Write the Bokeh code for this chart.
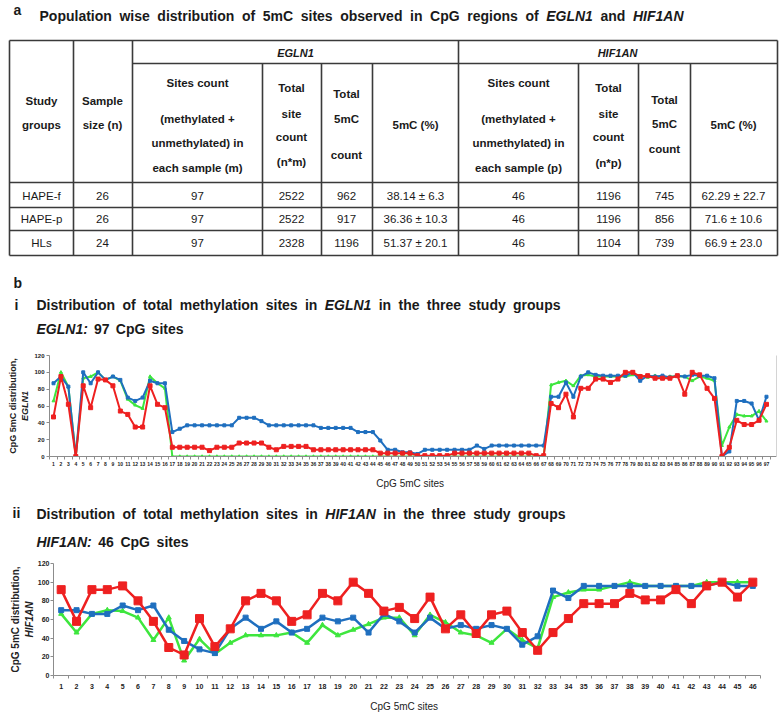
from bokeh.plotting import figure
from bokeh.models import Range1d, FixedTicker, LinearAxis
from bokeh.layouts import column
from bokeh.embed import file_html
from bokeh.resources import INLINE
from bokeh.core.properties import value

FONT = "Liberation Sans"
RED, GREEN, BLUE = "#ee2020", "#3ee63e", "#1f6fbf"
INK = "#1a1a1a"
RULE = "#3a3a3a"
PAGE_W = 784

# ---------------- table data ----------------
groups = ["HAPE-f", "HAPE-p", "HLs"]
sample_size = [26, 26, 24]
egln1_sites = [97, 97, 97]
egln1_total_sites = [2522, 2522, 2328]
egln1_total_5mc = [962, 917, 1196]
egln1_pct = ["38.14 \u00b1 6.3", "36.36 \u00b1 10.3", "51.37 \u00b1 20.1"]
hif1an_sites = [46, 46, 46]
hif1an_total_sites = [1196, 1196, 1104]
hif1an_total_5mc = [745, 856, 739]
hif1an_pct = ["62.29 \u00b1 22.7", "71.6 \u00b1 10.6", "66.9 \u00b1 23.0"]

# ---------------- EGLN1 (97 CpG sites) ----------------
egln1_red = [47, 95, 62, 0, 84, 58, 92, 91, 84, 54,
             50, 35, 35, 84, 62, 58, 11, 11, 11, 11,
             11, 7, 11, 11, 11, 16, 16, 16, 16, 11,
             8, 12, 12, 12, 12, 8, 8, 8, 8, 8,
             8, 8, 8, 8, 4, 4, 4, 4, 4, 1,
             1, 1, 1, 1, 4, 4, 4, 4, 4, 4,
             4, 4, 4, 4, 4, 1, 1, 63, 58, 74,
             47, 81, 81, 92, 92, 88, 92, 100, 100, 95,
             96, 93, 93, 93, 96, 74, 100, 97, 81, 69,
             0, 11, 43, 38, 38, 43, 62]
egln1_green = [66, 100, 83, 0, 93, 95, 100, 91, 95, 90,
               68, 61, 57, 95, 87, 81, 0, 0, 0, 0,
               0, 0, 0, 0, 0, 0, 0, 0, 0, 0,
               0, 0, 0, 0, 0, 0, 0, 0, 0, 0,
               0, 0, 0, 0, 0, 0, 0, 0, 0, 0,
               0, 0, 0, 0, 0, 0, 0, 0, 0, 0,
               0, 0, 0, 0, 0, 0, 0, 85, 88, 90,
               84, 96, 97, 95, 95, 95, 95, 95, 97, 96,
               94, 96, 93, 95, 95, 95, 90, 95, 93, 90,
               13, 35, 50, 48, 48, 54, 42]
egln1_blue = [87, 95, 83, 0, 100, 87, 100, 91, 95, 91,
              70, 66, 70, 90, 87, 87, 29, 33, 37, 37,
              37, 37, 37, 37, 37, 46, 46, 46, 42, 37,
              37, 37, 37, 37, 37, 37, 34, 34, 34, 34,
              34, 29, 29, 29, 19, 8, 8, 5, 5, 3,
              8, 8, 8, 8, 8, 8, 8, 13, 9, 13,
              13, 13, 13, 13, 13, 13, 13, 71, 71, 88,
              71, 95, 100, 97, 96, 96, 96, 96, 100, 90,
              96, 95, 96, 94, 96, 95, 97, 96, 96, 93,
              0, 6, 66, 66, 63, 43, 71]

# ---------------- HIF1AN (46 CpG sites) ----------------
hif1an_red = [92, 58, 92, 92, 96, 80, 58, 30, 22, 61,
              31, 50, 80, 88, 80, 58, 65, 88, 80, 100,
              88, 69, 73, 61, 84, 50, 65, 45, 65, 69,
              46, 27, 46, 61, 77, 77, 77, 88, 81, 81,
              92, 77, 96, 100, 84, 100]
hif1an_green = [66, 46, 66, 70, 69, 62, 38, 62, 16, 39,
                23, 35, 43, 43, 43, 46, 35, 54, 43, 49,
                55, 62, 62, 43, 65, 57, 46, 43, 35, 50,
                38, 29, 84, 89, 92, 92, 96, 100, 96, 96,
                96, 96, 100, 100, 100, 100]
hif1an_blue = [70, 70, 66, 66, 75, 70, 75, 49, 37, 28,
               24, 50, 62, 50, 58, 46, 50, 62, 58, 62,
               46, 66, 58, 46, 62, 50, 54, 50, 54, 50,
               33, 42, 91, 83, 96, 96, 96, 96, 96, 96,
               96, 96, 96, 100, 96, 96]

y_ticks = [0, 20, 40, 60, 80, 100, 120]

# ---------------- helpers ----------------
W = {c: 556 for c in "0123456789"}
W.update({' ': 278, '(': 333, ')': 333, '*': 389, '+': 584, ',': 278, '-': 333,
          '.': 278, ':': 333, '%': 889})
W.update(dict(A=722, B=722, C=722, D=722, E=667, F=611, G=778, H=722, I=278, J=556,
              K=722, L=611, M=833, N=722, O=778, P=667, Q=778, R=722, S=667, T=611,
              U=722, V=667, W=944, X=667, Y=667, Z=611))
W.update(dict(a=556, b=611, c=556, d=611, e=556, f=333, g=611, h=611, i=278, j=278,
              k=556, l=278, m=889, n=611, o=611, p=611, q=611, r=389, s=556, t=333,
              u=611, v=556, w=778, x=556, y=556, z=500))


def no_align(p):
    if "frame_align" in p.properties():
        p.frame_align = False


def page_fig(top, bottom):
    p = figure(width=PAGE_W, height=bottom - top, x_range=Range1d(0, PAGE_W),
               y_range=Range1d(bottom, top), x_axis_location=None, y_axis_location=None,
               output_backend="svg", toolbar_location=None, min_border=0)
    p.xgrid.visible = False
    p.ygrid.visible = False
    p.outline_line_color = None
    no_align(p)
    return p


def put(p, x, y, s, size=11, style="normal", align="center", color=INK):
    p.text(x=[x], y=[y], text=[s], text_font=value(FONT), text_font_size=f"{size}px",
           text_font_style=style, text_align=align, text_baseline="middle",
           text_color=color)


def words_row(p, parts, x0, x1, y, size):
    widths = [sum(W.get(c, 556) for c in w) * size / 1000 for w, _ in parts]
    gap = (x1 - x0 - sum(widths)) / (len(parts) - 1)
    x = x0
    for (w, st), wd in zip(parts, widths):
        put(p, x, y, w, size, st, "left")
        x += wd + gap


def title_parts(gene):
    b = "bold"
    return [("Distribution", b), ("of", b), ("total", b), ("methylation", b), ("sites", b),
            ("in", b), (gene, "bold italic"), ("in", b), ("the", b), ("three", b),
            ("study", b), ("groups", b)]


# ---------------- top block: table + headings of b/i ----------------
top = page_fig(0, 340)
put(top, 13, 9, "a", 14, "bold", "left")
b = "bold"
words_row(top, [("Population", b), ("wise", b), ("distribution", b), ("of", b), ("5mC", b),
                ("sites", b), ("observed", b), ("in", b), ("CpG", b), ("regions", b),
                ("of", b), ("EGLN1", "bold italic"), ("and", b), ("HIF1AN", "bold italic")],
          39, 683, 15, 14)

full_h = [40, 182, 207, 230, 255]
top.segment(x0=[9] * len(full_h), y0=full_h, x1=[777] * len(full_h), y1=full_h,
            line_color=RULE, line_width=1.6)
top.segment(x0=[132], y0=[63], x1=[777], y1=[63], line_color=RULE, line_width=1.6)
full_v = [9, 73, 132, 458, 777]
top.segment(x0=full_v, y0=[40] * len(full_v), x1=full_v, y1=[255] * len(full_v),
            line_color=RULE, line_width=1.6)
sub_v = [262, 321, 372, 578, 638, 690]
top.segment(x0=sub_v, y0=[63] * len(sub_v), x1=sub_v, y1=[255] * len(sub_v),
            line_color=RULE, line_width=1.6)

put(top, 295, 52, "EGLN1", 11, "bold italic")
put(top, 617, 52, "HIF1AN", 11, "bold italic")

col_x = [41, 102, 197, 291, 346, 415, 518, 608, 664, 733]
headers = [
    [("Study", 100), ("groups", 124)],
    [("Sample", 100), ("size (n)", 124)],
    [("Sites count", 82), ("(methylated +", 118), ("unmethylated) in", 142), ("each sample (m)", 167)],
    [("Total", 87), ("site", 113), ("count", 136), ("(n*m)", 161)],
    [("Total", 93), ("5mC", 118), ("count", 154)],
    [("5mC (%)", 124)],
    [("Sites count", 82), ("(methylated +", 118), ("unmethylated) in", 142), ("each sample (p)", 167)],
    [("Total", 87), ("site", 113), ("count", 136), ("(n*p)", 162)],
    [("Total", 99), ("5mC", 123), ("count", 148)],
    [("5mC (%)", 124)],
]
for cx, lines in zip(col_x, headers):
    for s, y in lines:
        put(top, cx, y, s, 11.5, "bold")

columns_data = [groups, sample_size, egln1_sites, egln1_total_sites, egln1_total_5mc,
                egln1_pct, hif1an_sites, hif1an_total_sites, hif1an_total_5mc, hif1an_pct]
row_y = [195, 218.5, 242.5]
for cx, vals in zip(col_x, columns_data):
    top.text(x=[cx] * len(vals), y=row_y, text=[str(v) for v in vals],
             text_font=value(FONT), text_font_size="11.5px", text_align="center",
             text_baseline="middle", text_color=INK)

put(top, 13, 282, "b", 14, "bold", "left")
put(top, 14, 304, "i", 14, "bold", "left")
words_row(top, title_parts("EGLN1"), 36, 560, 304, 14)
words_row(top, [("EGLN1:", "bold italic"), (str(len(egln1_red)), b), ("CpG", b), ("sites", b)],
          36, 183, 328, 14)


# ---------------- charts ----------------
def style_chart(p, n, xtick_size, ytick_size, inner_label, label_size, xlab_standoff,
                xtick_standoff, ytick_standoff, outer_standoff, inner_standoff):
    no_align(p)
    p.xgrid.visible = False
    p.ygrid.visible = False
    p.outline_line_color = None
    xa = p.xaxis[0]
    xa.ticker = FixedTicker(ticks=list(range(1, n + 1)),
                            minor_ticks=[i + 0.5 for i in range(0, n + 1)])
    xa.major_tick_out = 0
    xa.major_tick_in = 0
    xa.minor_tick_out = 3
    xa.minor_tick_in = 0
    xa.axis_line_color = "#8c8c8c"
    xa.minor_tick_line_color = "#8c8c8c"
    xa.major_label_text_font = FONT
    xa.major_label_text_font_size = xtick_size
    xa.major_label_text_font_style = "bold"
    xa.major_label_text_color = "#222222"
    xa.major_label_standoff = xtick_standoff
    xa.axis_label = "CpG  5mC  sites"
    xa.axis_label_text_font = FONT
    xa.axis_label_text_font_size = "10px"
    xa.axis_label_text_font_style = "normal"
    xa.axis_label_text_color = "#222222"
    xa.axis_label_standoff = xlab_standoff

    ya = p.yaxis[0]
    ya.ticker = FixedTicker(ticks=y_ticks)
    ya.major_tick_out = 3
    ya.major_tick_in = 0
    ya.minor_tick_line_color = None
    ya.axis_line_color = "#8c8c8c"
    ya.major_tick_line_color = "#8c8c8c"
    ya.major_label_text_font = FONT
    ya.major_label_text_font_size = ytick_size
    ya.major_label_text_font_style = "bold"
    ya.major_label_text_color = "#222222"
    ya.major_label_standoff = ytick_standoff
    ya.axis_label = inner_label
    ya.axis_label_text_font = FONT
    ya.axis_label_text_font_size = label_size
    ya.axis_label_text_font_style = "bold italic"
    ya.axis_label_text_color = "#222222"
    ya.axis_label_standoff = inner_standoff

    outer = LinearAxis(ticker=FixedTicker(ticks=[]), axis_label="CpG 5mC distribution,",
                       axis_line_color=None, major_tick_line_color=None,
                       minor_tick_line_color=None, major_label_text_font_size="0px",
                       axis_label_text_font=FONT, axis_label_text_font_size=label_size,
                       axis_label_text_font_style="bold", axis_label_text_color="#222222",
                       axis_label_standoff=outer_standoff)
    p.add_layout(outer, "left")


s1 = list(range(1, len(egln1_red) + 1))
c1 = figure(width=PAGE_W, height=155, x_range=Range1d(0.46, len(s1) + 1.35),
            y_range=Range1d(0, 120), output_backend="svg", toolbar_location=None,
            min_border_left=49, min_border_right=8, min_border_top=15, min_border_bottom=39)
style_chart(c1, len(s1), "5px", "6px", "EGLN1", "9px", 9, 2, 2, 0, 1)
c1.add_layout(LinearAxis(ticker=FixedTicker(ticks=[]), major_label_text_font_size="0px",
                         major_tick_line_color=None, minor_tick_line_color=None,
                         axis_line_color="#d4d4d4"), "right")
for ys, col, mk, sz in [(egln1_green, GREEN, "triangle", 3), (egln1_blue, BLUE, "square", 3),
                        (egln1_red, RED, "square", 4)]:
    c1.line(s1, ys, line_color=col, line_width=2, line_join="round")
    c1.scatter(s1, ys, marker=mk, size=sz, fill_color=col, line_color=col)

mid = page_fig(495, 550)
put(mid, 12, 512, "ii", 14, "bold", "left")
words_row(mid, title_parts("HIF1AN"), 36, 565, 513, 14)
words_row(mid, [("HIF1AN:", "bold italic"), (str(len(hif1an_red)), b), ("CpG", b), ("sites", b)],
          36, 188, 541, 14)

s2 = list(range(1, len(hif1an_red) + 1))
c2 = figure(width=PAGE_W, height=164, x_range=Range1d(0.5, len(s2) + 0.5), y_range=Range1d(0, 120),
            output_backend="svg", toolbar_location=None,
            min_border_left=53, min_border_right=24, min_border_top=13, min_border_bottom=36)
style_chart(c2, len(s2), "7px", "7px", "HIF1AN", "10px", 9, 5, 1, 0, 0)
for ys, col, mk, sz in [(hif1an_green, GREEN, "triangle", 5), (hif1an_blue, BLUE, "square", 5),
                        (hif1an_red, RED, "square", 8)]:
    c2.line(s2, ys, line_color=col, line_width=2.5, line_join="round")
    c2.scatter(s2, ys, marker=mk, size=sz, fill_color=col, line_color=col)

layout = column(top, c1, mid, c2, spacing=0)
open("out.html", "w").write(file_html(layout, INLINE))
